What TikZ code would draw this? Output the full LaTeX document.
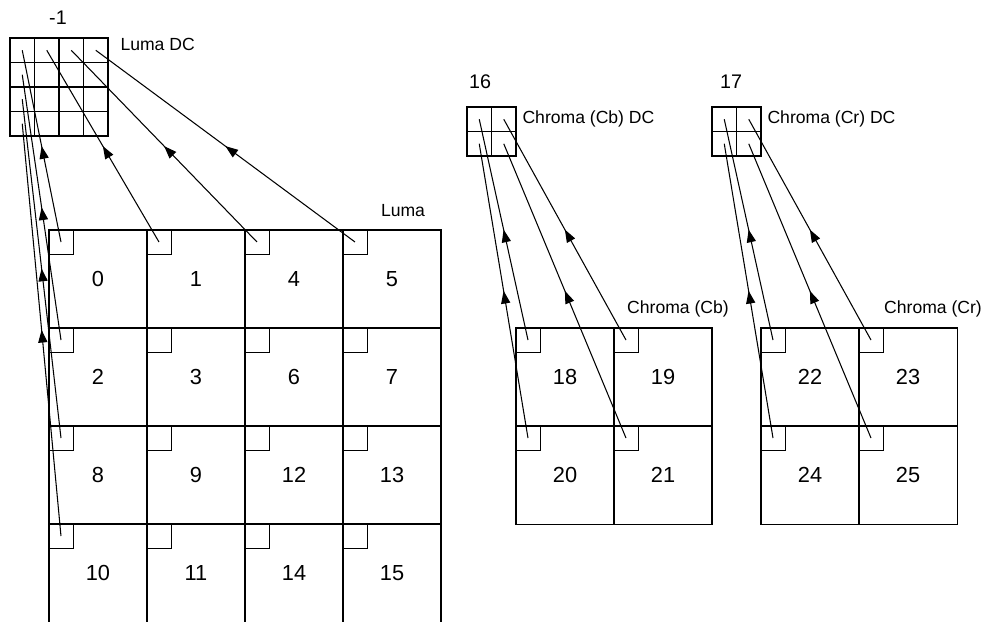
\documentclass[tikz,border=0pt]{standalone}
\usepackage{fontspec}
\setmainfont{Liberation Sans}
\usetikzlibrary{arrows.meta,decorations.markings}

\begin{document}
\begin{tikzpicture}[x=0.025cm, y=-0.025cm, line width=0.75pt,
  font=\fontsize{12.5}{14}\selectfont,
  block/.style={draw, minimum size=2.45cm, inner sep=0pt, outer sep=0pt,
    font=\fontsize{15.5}{18}\selectfont},
  sq/.style={draw, line width=0.5pt, minimum size=0.6cm, inner sep=0pt,
    outer sep=0pt, anchor=north west},
  dccell/.style={draw, minimum size=0.6125cm, inner sep=0pt, outer sep=0pt},
  idx/.style={font=\fontsize{14}{16}\selectfont},
  dcarrow/.style={postaction={decorate}, decoration={markings,
    mark=at position 0.5 with {\arrow{Triangle[length=9pt, width=6.5pt]}}}}]
  \useasboundingbox (0,0) rectangle (984,621);

  % Luma blocks (4x4)
  \foreach \lbl [count=\i from 0] in {0,1,4,5,2,3,6,7,8,9,12,13,10,11,14,15} {
    \pgfmathtruncatemacro\r{\i/4}
    \pgfmathtruncatemacro\c{mod(\i,4)}
    \node[block] (Y\lbl) at ({98+98*\c},{279+98*\r}) {\lbl};
    \node[sq] (sq\lbl) at (Y\lbl.north west) {};
  }
  % Chroma (Cb) blocks
  \foreach \lbl [count=\i from 0] in {18,19,20,21} {
    \pgfmathtruncatemacro\r{\i/2}
    \pgfmathtruncatemacro\c{mod(\i,2)}
    \node[block] (B\lbl) at ({565+98*\c},{377+98*\r}) {\lbl};
    \node[sq] (sq\lbl) at (B\lbl.north west) {};
  }
  % Chroma (Cr) blocks
  \foreach \lbl [count=\i from 0] in {22,23,24,25} {
    \pgfmathtruncatemacro\r{\i/2}
    \pgfmathtruncatemacro\c{mod(\i,2)}
    \node[block] (R\lbl) at ({810+98*\c},{377+98*\r}) {\lbl};
    \node[sq] (sq\lbl) at (R\lbl.north west) {};
  }

  % DC grids
  \foreach \r in {0,...,3}
    \foreach \c in {0,...,3}
      \node[dccell] (YDC-\r-\c) at ({22.25+24.5*\c},{50.25+24.5*\r}) {};
  \foreach \r in {0,1}
    \foreach \c in {0,1} {
      \node[dccell] (BDC-\r-\c) at ({479.25+24.5*\c},{119.25+24.5*\r}) {};
      \node[dccell] (RDC-\r-\c) at ({724.25+24.5*\c},{119.25+24.5*\r}) {};
    }

  % Labels
  \node[idx] (ydcidx) at (58,18) {-1};
  \node[anchor=west, inner sep=0pt] (ydclbl) at (120,44) {Luma DC};
  \node (ylbl) at (403,211) {Luma};
  \node[idx] (bdcidx) at (480,82) {16};
  \node[anchor=west, inner sep=0pt] (bdclbl) at (522,119) {Chroma (Cb) DC};
  \node (blbl) at (678,309) {Chroma (Cb)};
  \node[idx] (rdcidx) at (731,82) {17};
  \node[anchor=west, inner sep=0pt] (rdclbl) at (767,119) {Chroma (Cr) DC};
  \node (rlbl) at (933,309) {Chroma (Cr)};

  % DC arrows
  \foreach \blk/\r/\c in {0/0/0,1/0/1,4/0/2,5/0/3,2/1/0,8/2/0,10/3/0}
    \draw[dcarrow] (sq\blk.center) -- (YDC-\r-\c.center);
  \foreach \blk/\r/\c in {18/0/0,19/0/1,20/1/0,21/1/1}
    \draw[dcarrow] (sq\blk.center) -- (BDC-\r-\c.center);
  \foreach \blk/\r/\c in {22/0/0,23/0/1,24/1/0,25/1/1}
    \draw[dcarrow] (sq\blk.center) -- (RDC-\r-\c.center);
\end{tikzpicture}
\end{document}
